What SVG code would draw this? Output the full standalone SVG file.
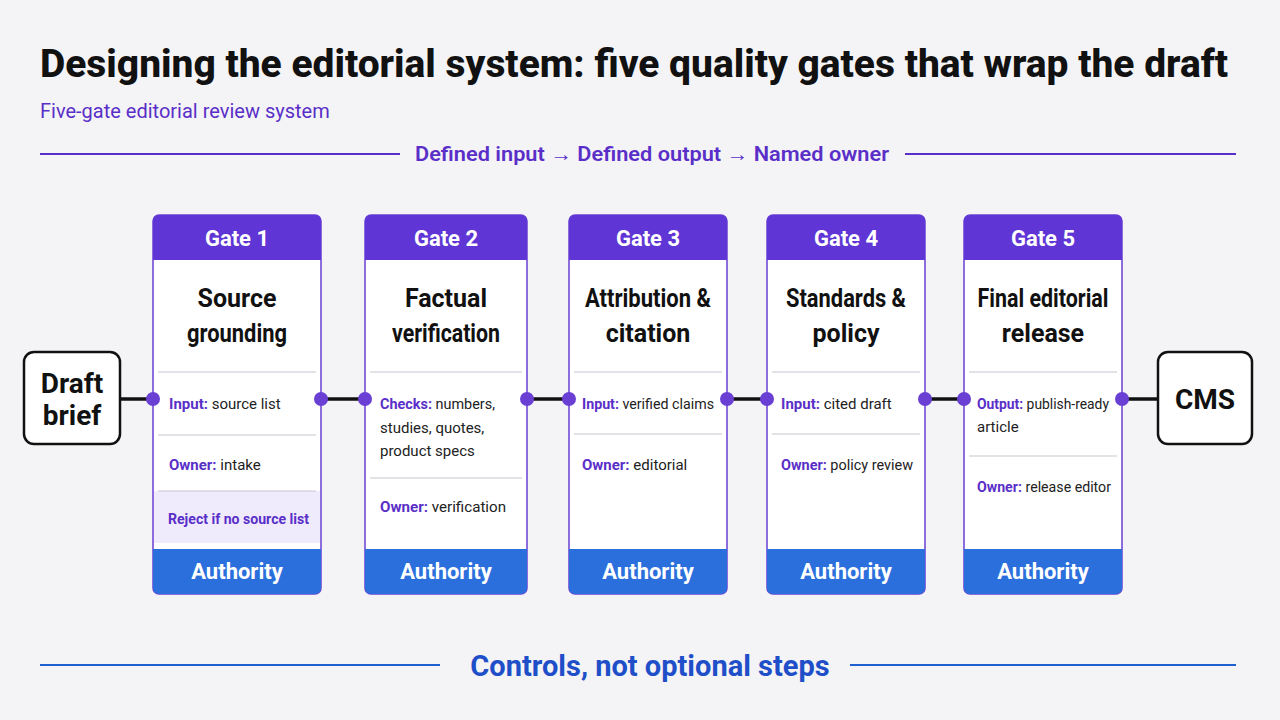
<svg xmlns="http://www.w3.org/2000/svg" width="1280" height="720" viewBox="0 0 1280 720">
<style>
text{font-family:Roboto,"Noto Sans",sans-serif}
.card{fill:#fff;stroke:#6a3fd4;stroke-width:1.5}
.hd{fill:#5f35d6}
.au{fill:#2a6fdc}
.ht{fill:#fff;font-size:22px;font-weight:700;text-anchor:middle}
.tt{fill:#111;font-size:25px;font-weight:700;text-anchor:middle}
.dv{stroke:#c8c8d0;stroke-width:1.2}
.lb{font-size:15px;fill:#222}
.k{fill:#5a2fc8;font-weight:700}
.dot{fill:#6a3fd4}
.cn{stroke:#111;stroke-width:3.5}
.end{fill:#fff;stroke:#111;stroke-width:2.5}
.et{fill:#111;font-size:28px;font-weight:700;text-anchor:middle}
</style>
<rect width="1280" height="720" fill="#f4f4f7"/>
<text x="40" y="77" font-size="38" font-weight="800" fill="#111" textLength="1188" lengthAdjust="spacingAndGlyphs">Designing the editorial system: five quality gates that wrap the draft</text>
<text x="40" y="118" font-size="20" fill="#5a2fc8">Five-gate editorial review system</text>
<line x1="40" y1="154" x2="400" y2="154" stroke="#5a2fc8" stroke-width="2"/>
<line x1="905" y1="154" x2="1236" y2="154" stroke="#5a2fc8" stroke-width="2"/>
<text x="652" y="161" font-size="20" font-weight="600" fill="#5a2fc8" text-anchor="middle" textLength="474" lengthAdjust="spacingAndGlyphs">Defined input → Defined output → Named owner</text>
<line x1="40" y1="665" x2="440" y2="665" stroke="#1f5fd0" stroke-width="2"/>
<line x1="850" y1="665" x2="1236" y2="665" stroke="#1f5fd0" stroke-width="2"/>
<text x="650" y="676" font-size="29" font-weight="700" fill="#1f4fc8" text-anchor="middle">Controls, not optional steps</text>

<g id="connectors">
<line class="cn" x1="120" y1="399" x2="153" y2="399"/>
<line class="cn" x1="321" y1="399" x2="365" y2="399"/>
<line class="cn" x1="527" y1="399" x2="569" y2="399"/>
<line class="cn" x1="727" y1="399" x2="767" y2="399"/>
<line class="cn" x1="925" y1="399" x2="964" y2="399"/>
<line class="cn" x1="1122" y1="399" x2="1158" y2="399"/>
</g>

<g id="draft">
<rect class="end" x="24" y="352" width="96" height="92" rx="10"/>
<text class="et" x="72" y="393">Draft</text><text class="et" x="72" y="425">brief</text>
</g>
<g id="cms">
<rect class="end" x="1158" y="352" width="94" height="92" rx="10"/>
<text class="et" x="1205" y="409">CMS</text>
</g>

<g id="gate1">
<rect class="card" x="153" y="215" width="168" height="379" rx="6"/>
<path class="hd" d="M159 215h156a6 6 0 0 1 6 6v39h-168v-39a6 6 0 0 1 6-6z"/>
<rect x="154" y="491" width="166" height="52" fill="#efeafc"/>
<path class="au" d="M153 549h168v39a6 6 0 0 1-6 6h-156a6 6 0 0 1-6-6z"/>
<text class="ht" x="237" y="246">Gate 1</text>
<text class="tt" x="237" y="307">Source</text><text class="tt" x="237" y="342" textLength="100" lengthAdjust="spacingAndGlyphs">grounding</text>
<line class="dv" x1="158" y1="372" x2="316" y2="372"/><line class="dv" x1="158" y1="435" x2="316" y2="435"/><line class="dv" x1="158" y1="491" x2="316" y2="491"/>
<text class="lb" x="169" y="409"><tspan class="k">Input:</tspan> source list</text>
<text class="lb" x="169" y="470"><tspan class="k">Owner:</tspan> intake</text>
<text class="lb k" x="168" y="524" textLength="141" lengthAdjust="spacingAndGlyphs">Reject if no source list</text>
<text class="ht" x="237" y="579">Authority</text>
<circle class="dot" cx="153" cy="399" r="7"/><circle class="dot" cx="321" cy="399" r="7"/>
</g>

<g id="gate2">
<rect class="card" x="365" y="215" width="162" height="379" rx="6"/>
<path class="hd" d="M371 215h150a6 6 0 0 1 6 6v39h-162v-39a6 6 0 0 1 6-6z"/>
<path class="au" d="M365 549h162v39a6 6 0 0 1-6 6h-150a6 6 0 0 1-6-6z"/>
<text class="ht" x="446" y="246">Gate 2</text>
<text class="tt" x="446" y="307">Factual</text><text class="tt" x="446" y="342" textLength="108" lengthAdjust="spacingAndGlyphs">verification</text>
<line class="dv" x1="370" y1="372" x2="522" y2="372"/><line class="dv" x1="370" y1="478" x2="522" y2="478"/>
<text class="lb" x="380" y="409" textLength="115" lengthAdjust="spacingAndGlyphs"><tspan class="k">Checks:</tspan> numbers,</text>
<text class="lb" x="380" y="433">studies, quotes,</text>
<text class="lb" x="380" y="456">product specs</text>
<text class="lb" x="380" y="512" textLength="126" lengthAdjust="spacingAndGlyphs"><tspan class="k">Owner:</tspan> verification</text>
<text class="ht" x="446" y="579">Authority</text>
<circle class="dot" cx="365" cy="399" r="7"/><circle class="dot" cx="527" cy="399" r="7"/>
</g>

<g id="gate3">
<rect class="card" x="569" y="215" width="158" height="379" rx="6"/>
<path class="hd" d="M575 215h146a6 6 0 0 1 6 6v39h-158v-39a6 6 0 0 1 6-6z"/>
<path class="au" d="M569 549h158v39a6 6 0 0 1-6 6h-146a6 6 0 0 1-6-6z"/>
<text class="ht" x="648" y="246">Gate 3</text>
<text class="tt" x="648" y="307" textLength="126" lengthAdjust="spacingAndGlyphs">Attribution &amp;</text><text class="tt" x="648" y="342">citation</text>
<line class="dv" x1="574" y1="372" x2="722" y2="372"/><line class="dv" x1="574" y1="434" x2="722" y2="434"/>
<text class="lb" x="582" y="409" textLength="132" lengthAdjust="spacingAndGlyphs"><tspan class="k">Input:</tspan> verified claims</text>
<text class="lb" x="582" y="470"><tspan class="k">Owner:</tspan> editorial</text>
<text class="ht" x="648" y="579">Authority</text>
<circle class="dot" cx="569" cy="399" r="7"/><circle class="dot" cx="727" cy="399" r="7"/>
</g>

<g id="gate4">
<rect class="card" x="767" y="215" width="158" height="379" rx="6"/>
<path class="hd" d="M773 215h146a6 6 0 0 1 6 6v39h-158v-39a6 6 0 0 1 6-6z"/>
<path class="au" d="M767 549h158v39a6 6 0 0 1-6 6h-146a6 6 0 0 1-6-6z"/>
<text class="ht" x="846" y="246">Gate 4</text>
<text class="tt" x="846" y="307" textLength="120" lengthAdjust="spacingAndGlyphs">Standards &amp;</text><text class="tt" x="846" y="342">policy</text>
<line class="dv" x1="772" y1="372" x2="920" y2="372"/><line class="dv" x1="772" y1="434" x2="920" y2="434"/>
<text class="lb" x="781" y="409"><tspan class="k">Input:</tspan> cited draft</text>
<text class="lb" x="781" y="470" textLength="132" lengthAdjust="spacingAndGlyphs"><tspan class="k">Owner:</tspan> policy review</text>
<text class="ht" x="846" y="579">Authority</text>
<circle class="dot" cx="767" cy="399" r="7"/><circle class="dot" cx="925" cy="399" r="7"/>
</g>

<g id="gate5">
<rect class="card" x="964" y="215" width="158" height="379" rx="6"/>
<path class="hd" d="M970 215h146a6 6 0 0 1 6 6v39h-158v-39a6 6 0 0 1 6-6z"/>
<path class="au" d="M964 549h158v39a6 6 0 0 1-6 6h-146a6 6 0 0 1-6-6z"/>
<text class="ht" x="1043" y="246">Gate 5</text>
<text class="tt" x="1043" y="307" textLength="131" lengthAdjust="spacingAndGlyphs">Final editorial</text><text class="tt" x="1043" y="342">release</text>
<line class="dv" x1="969" y1="372" x2="1117" y2="372"/><line class="dv" x1="969" y1="456" x2="1117" y2="456"/>
<text class="lb" x="977" y="409" textLength="132" lengthAdjust="spacingAndGlyphs"><tspan class="k">Output:</tspan> publish-ready</text>
<text class="lb" x="977" y="432">article</text>
<text class="lb" x="977" y="492" textLength="134" lengthAdjust="spacingAndGlyphs"><tspan class="k">Owner:</tspan> release editor</text>
<text class="ht" x="1043" y="579">Authority</text>
<circle class="dot" cx="964" cy="399" r="7"/><circle class="dot" cx="1122" cy="399" r="7"/>
</g>
</svg>
